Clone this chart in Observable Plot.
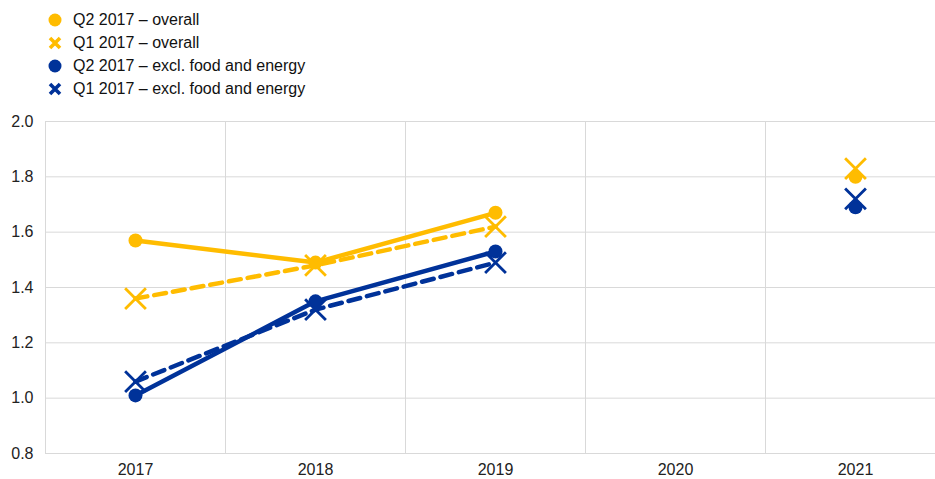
<!DOCTYPE html>
<html>
<head>
<meta charset="utf-8">
<script src="https://cdn.jsdelivr.net/npm/d3@7"></script>
<script src="https://cdn.jsdelivr.net/npm/@observablehq/plot@0.6"></script>
<style>
  html, body { margin: 0; padding: 0; background: #fff; }
  body { width: 935px; height: 479px; overflow: hidden; font-family: "Liberation Sans", Arial, sans-serif; }
  #legend { height: 105px; position: relative; }
  .item { position: absolute; left: 46px; height: 20px; display: flex; align-items: center; font-size: 16px; color: #111; }
  .item svg { margin-right: 9px; }
</style>
</head>
<body>
<div id="legend"></div>
<div id="chart"></div>
<script>
const years = [2017, 2018, 2019, 2020, 2021];
const q2Overall = [1.57, 1.49, 1.67, null, 1.80];
const q1Overall = [1.36, 1.48, 1.62, null, 1.83];
const q2Excl = [1.01, 1.35, 1.53, null, 1.69];
const q1Excl = [1.06, 1.32, 1.49, null, 1.72];
const yTicks = [0.8, 1.0, 1.2, 1.4, 1.6, 1.8, 2.0];
const seriesNames = ["Q2 2017 – overall", "Q1 2017 – overall", "Q2 2017 – excl. food and energy", "Q1 2017 – excl. food and energy"];

const YELLOW = "#FFBC00";
const BLUE = "#003299";
const series = [
  {name: seriesNames[0], values: q2Overall, color: YELLOW, dash: null, sym: "circle"},
  {name: seriesNames[1], values: q1Overall, color: YELLOW, dash: "12,7", sym: "times"},
  {name: seriesNames[2], values: q2Excl, color: BLUE, dash: null, sym: "circle"},
  {name: seriesNames[3], values: q1Excl, color: BLUE, dash: "12,7", sym: "times"}
];

// Legend
const legend = document.getElementById("legend");
series.forEach((s, i) => {
  const div = document.createElement("div");
  div.className = "item";
  div.style.top = (10 + i * 23) + "px";
  const icon = s.sym === "circle"
    ? `<svg width="18" height="18"><circle cx="9" cy="9" r="6.5" fill="${s.color}"/></svg>`
    : `<svg width="18" height="18"><path d="M4,4L14,14M14,4L4,14" stroke="${s.color}" stroke-width="3.6"/></svg>`;
  div.innerHTML = icon + `<span>${s.name}</span>`;
  legend.appendChild(div);
});

const rows = series.map(s => years.map((yr, j) => ({year: yr, value: s.values[j], name: s.name})));
const bounds = [years[0] - 0.5, ...years.map(y => y + 0.5)];

const marks = [
  Plot.ruleY(yTicks, {stroke: "#d9d9d9", strokeWidth: 1}),
  Plot.ruleX(bounds, {stroke: "#d9d9d9", strokeWidth: 1}),
  Plot.axisY({ticks: yTicks, tickFormat: d3.format(".1f"), tickSize: 0, tickPadding: 12, fontSize: 16, label: null, color: "#222"}),
  Plot.axisX({ticks: years, tickFormat: d3.format("d"), tickSize: 0, tickPadding: 10, fontSize: 16, label: null, color: "#222"})
];
series.forEach((s, i) => {
  marks.push(Plot.line(rows[i], {x: "year", y: "value", stroke: s.color, strokeWidth: 4.5, strokeDasharray: s.dash, defined: d => d.value != null}));
});
series.forEach((s, i) => {
  const data = rows[i].filter(d => d.value != null);
  if (s.sym === "circle") {
    marks.push(Plot.dot(data, {x: "year", y: "value", r: 7, fill: s.color, stroke: null}));
  } else {
    marks.push(Plot.dot(data, {x: "year", y: "value", r: 9.5, symbol: "times", stroke: s.color, strokeWidth: 2.8}));
  }
});

const chart = Plot.plot({
  width: 935,
  height: 374,
  marginTop: 16,
  marginBottom: 26,
  marginLeft: 45,
  marginRight: 0,
  style: {fontFamily: "Liberation Sans, Arial, sans-serif", background: "white", overflow: "hidden"},
  x: {domain: [bounds[0], bounds[bounds.length - 1]], range: [45, 945]},
  y: {domain: [0.8, 2.0]},
  marks
});
document.getElementById("chart").appendChild(chart);
</script>
</body>
</html>
